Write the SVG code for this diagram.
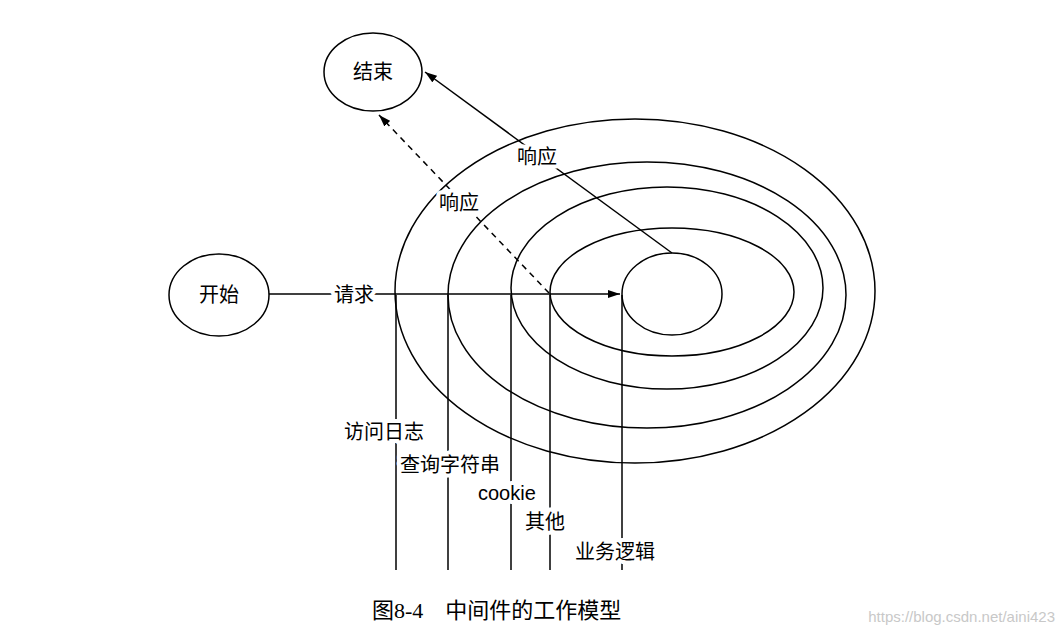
<svg xmlns="http://www.w3.org/2000/svg" width="1064" height="636" viewBox="0 0 1064 636">
<style>
.s{fill:none;stroke:#000;stroke-width:1.5}
.t{font-family:"Liberation Sans","Noto Sans CJK SC",sans-serif;font-size:20px;fill:#000;paint-order:stroke;stroke:#fff;stroke-width:8px;stroke-linejoin:round}
.n{font-family:"Liberation Sans","Noto Sans CJK SC",sans-serif;font-size:20px;fill:#000;text-anchor:middle}
</style>
<defs><marker id="a" markerWidth="12" markerHeight="8" refX="12" refY="4" orient="auto" markerUnits="userSpaceOnUse"><path d="M0,0L12,4L0,8z" fill="#000"/></marker></defs>
<rect width="1064" height="636" fill="#fff"/>
<g id="rings">
<ellipse class="s" cx="635" cy="291" rx="240" ry="172"/>
<ellipse class="s" cx="647" cy="295" rx="199" ry="133"/>
<ellipse class="s" cx="667" cy="288" rx="156" ry="101"/>
<ellipse class="s" cx="672" cy="292" rx="122" ry="64"/>
</g>
<g id="core"><ellipse class="s" cx="672" cy="294" rx="50" ry="41"/></g>
<g id="start"><ellipse class="s" cx="219" cy="295" rx="50" ry="41"/><text class="n" x="219" y="302">开始</text></g>
<g id="end"><ellipse class="s" cx="373" cy="72" rx="49" ry="39"/><text class="n" x="373" y="79">结束</text></g>
<g id="connectors">
<line class="s" x1="269" y1="294" x2="620" y2="294" marker-end="url(#a)"/>
<line class="s" x1="672" y1="253" x2="425" y2="72" marker-end="url(#a)"/>
<line class="s" x1="549" y1="293" x2="379" y2="115" stroke-dasharray="6,5" marker-end="url(#a)"/>
<line class="s" x1="396" y1="295" x2="396" y2="570"/>
<line class="s" x1="448" y1="295" x2="448" y2="570"/>
<line class="s" x1="511" y1="295" x2="511" y2="570"/>
<line class="s" x1="550" y1="295" x2="550" y2="570"/>
<line class="s" x1="622" y1="295" x2="622" y2="570"/>
</g>
<g id="labels">
<text class="t" x="334" y="302">请求</text>
<text class="t" x="517" y="164">响应</text>
<text class="t" x="439" y="210">响应</text>
<text class="t" x="344" y="439">访问日志</text>
<text class="t" x="400" y="472">查询字符串</text>
<text class="t" x="478" y="500">cookie</text>
<text class="t" x="525" y="529">其他</text>
<text class="t" x="575" y="559">业务逻辑</text>
</g>
<text x="372" y="618" font-family="'Liberation Serif','Noto Sans CJK SC',serif" font-size="22" fill="#000" xml:space="preserve">图8-4    中间件的工作模型</text>
<text x="1055" y="622" text-anchor="end" font-family="'Liberation Sans',sans-serif" font-size="15" fill="#c8c8c8">https://blog.csdn.net/aini423</text>
</svg>
